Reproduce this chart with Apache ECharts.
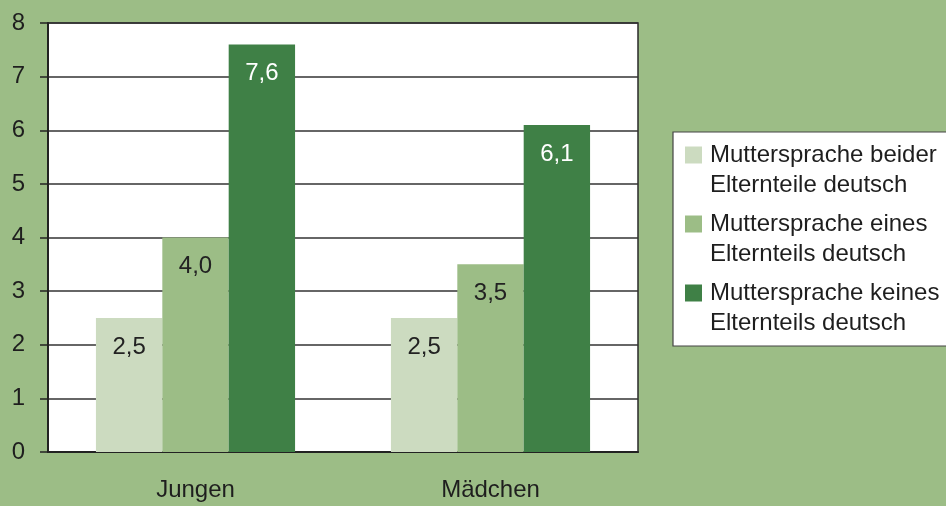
<!DOCTYPE html>
<html>
<head>
<meta charset="utf-8">
<script src="https://cdn.jsdelivr.net/npm/echarts@6/dist/echarts.min.js"></script>
<style>html,body{margin:0;padding:0;background:#9CBD86;}#c{width:946px;height:506px;}</style>
</head>
<body>
<div id="c"></div>
<script>
const categories = ['Jungen', 'Mädchen'];
const seriesNames = [
  'Muttersprache beider\nElternteile deutsch',
  'Muttersprache eines\nElternteils deutsch',
  'Muttersprache keines\nElternteils deutsch'
];
const beiderValues = [2.5, 2.5];
const einesValues = [4.0, 3.5];
const keinesValues = [7.6, 6.1];
const yTicks = [0, 1, 2, 3, 4, 5, 6, 7, 8];

const colors = ['#CCDBC0', '#9CBD86', '#3F8046'];
const labelColors = ['#222222', '#222222', '#ffffff'];
const font = '"Liberation Sans", Arial, sans-serif';
const legendIcon = 'path://M0,0M20,60M0,6.5H17V23.5H0Z';

const chart = echarts.init(document.getElementById('c'), null, {renderer: 'canvas'});
const data = [beiderValues, einesValues, keinesValues];
chart.setOption({
  backgroundColor: '#9CBD86',
  animation: false,
  grid: {
    left: 48, top: 23, right: 308, bottom: 54,
    show: true, backgroundColor: '#ffffff', borderColor: '#2a2a2a', borderWidth: 1.5
  },
  legend: {
    orient: 'vertical',
    left: 673, top: 132,
    backgroundColor: '#ffffff',
    borderColor: '#444444', borderWidth: 1.2,
    padding: [8, 30, 8, 12],
    itemGap: 9, itemWidth: 20, itemHeight: 60,
    icon: legendIcon,
    textStyle: {fontFamily: font, fontSize: 24, color: '#1e1e1e', lineHeight: 30},
    data: seriesNames
  },
  xAxis: {
    type: 'category',
    data: categories,
    axisLine: {lineStyle: {color: '#222222', width: 2}},
    axisTick: {length: 8, lineStyle: {color: '#222222', width: 1.5}},
    axisLabel: {fontFamily: font, fontSize: 24, color: '#1e1e1e', margin: 26}
  },
  yAxis: {
    type: 'value',
    min: yTicks[0], max: yTicks[yTicks.length - 1], interval: 1,
    axisLine: {show: true, lineStyle: {color: '#222222', width: 2}},
    axisTick: {show: true, length: 8, lineStyle: {color: '#222222', width: 1.5}},
    axisLabel: {fontFamily: font, fontSize: 24, color: '#1e1e1e', margin: 23},
    splitLine: {lineStyle: {color: '#333333', width: 1.5}}
  },
  series: seriesNames.map((name, i) => ({
    name: name,
    type: 'bar',
    data: data[i],
    barGap: 0,
    barCategoryGap: '32.5%',
    itemStyle: {color: colors[i]},
    label: {
      show: true,
      position: 'insideTop',
      distance: 17,
      fontFamily: font,
      fontSize: 24,
      color: labelColors[i],
      formatter: p => p.value.toFixed(1).replace('.', ',')
    }
  }))
});
</script>
</body>
</html>
